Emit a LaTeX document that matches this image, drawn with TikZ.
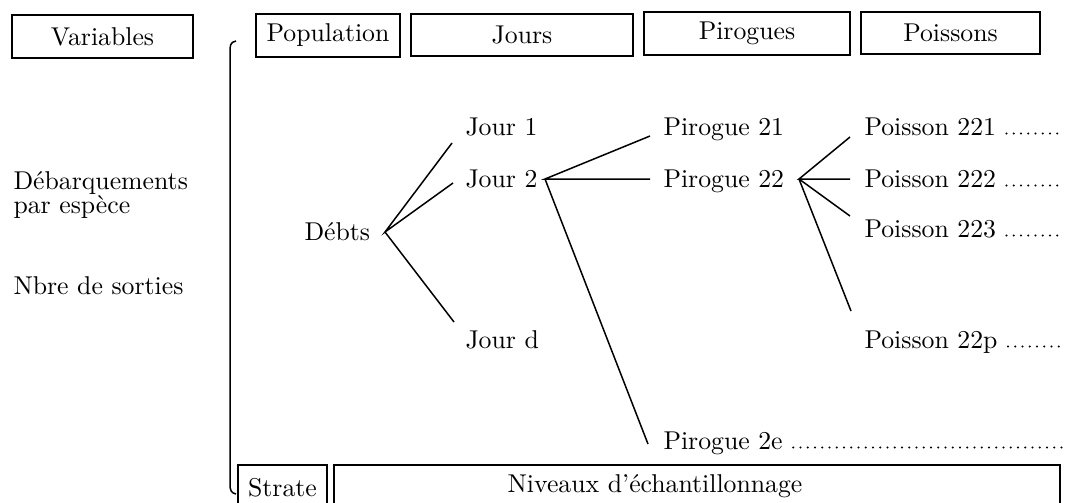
\documentclass[tikz,border=0pt]{standalone}
\begin{document}
\begin{tikzpicture}[x=0.4pt,y=-0.4pt,
  every node/.style={font=\fontsize{10.3pt}{12pt}\selectfont},
  hbox/.style={draw,line width=0.7pt,inner sep=0pt},
  lbl/.style={inner sep=0pt,anchor=base west},
  branch/.style={line width=0.6pt},
  leader/.style={line width=0.9pt,line cap=round,dash pattern=on 0pt off 2.9pt},
  bracket/.style={line width=0.6pt}]
\useasboundingbox (0,0) rectangle (1066,502);
\clip (0,0) rectangle (1066,502);

% header boxes
\node[hbox,minimum width=72.4pt,minimum height=17.2pt] (variables) at (102.5,36.5) {Variables};
\node[hbox,minimum width=57.6pt,minimum height=17.2pt] (population) at (328,35.5) {Population};
\node[hbox,minimum width=88.8pt,minimum height=16.8pt] (jours) at (522,35) {Jours};
\node[hbox,minimum width=82.4pt,minimum height=17.2pt] (pirogues) at (747,33.5) {Pirogues};
\node[hbox,minimum width=71.6pt,minimum height=16.8pt] (poissons) at (950.5,33) {Poissons};

% footer boxes (open at the lower edge)
\node[hbox,minimum width=35.6pt,minimum height=18pt] (strate) at (282.5,487.5) {Strate};
\node[hbox,minimum width=290.4pt,minimum height=18pt] (niveaux) at (697,487.5) {};
\node[inner sep=0pt] (niveaux-text) at (655,486) {Niveaux d’échantillonnage};

% bracket spanning the population
\coordinate (br-top) at (236,41);
\coordinate (br-bot) at (236,494);
\draw[bracket] (br-top) .. controls (230,42) and (230,46) .. (230,52) -- (230,484)
  .. controls (230,490) and (231,493) .. (br-bot);

% variables
\node[lbl] (debarq) at (13,189) {Débarquements};
\node[lbl] (espece) at (13,213) {par espèce};
\node[lbl] (sorties) at (13,294) {Nbre de sorties};

% tree labels
\node[lbl] (debts) at (304,240) {Débts};
\node[lbl] (jour1) at (465,135) {Jour 1};
\node[lbl] (jour2) at (465,187) {Jour 2};
\node[lbl] (jourd) at (465,348) {Jour d};
\node[lbl] (pir21) at (663,135) {Pirogue 21};
\node[lbl] (pir22) at (663,187) {Pirogue 22};
\node[lbl] (pir2e) at (663,449) {Pirogue 2e};
\node[lbl] (poi221) at (864,135) {Poisson 221};
\node[lbl] (poi222) at (864,187) {Poisson 222};
\node[lbl] (poi223) at (864,237) {Poisson 223};
\node[lbl] (poi22p) at (864,348) {Poisson 22p};

% branch points and branch tips
\coordinate (v-debts) at (385,232);
\coordinate (t-jour1) at (452,143);
\coordinate (t-jour2) at (453,183);
\coordinate (t-jourd) at (454,322);
\coordinate (v-jour2) at (545,179);
\coordinate (t-pir21) at (650,136);
\coordinate (t-pir22) at (650,179);
\coordinate (t-pir2e) at (648,444);
\coordinate (v-pir22) at (799,179);
\coordinate (t-poi221) at (850,137);
\coordinate (t-poi222) at (850,179);
\coordinate (t-poi223) at (850,216);
\coordinate (t-poi22p) at (851,311);

\draw[branch] (t-jour1) -- (v-debts) -- (t-jour2);
\draw[branch] (v-debts) -- (t-jourd);
\draw[branch] (t-pir21) -- (v-jour2) -- (t-pir22);
\draw[branch] (v-jour2) -- (t-pir2e);
\draw[branch] (t-poi221) -- (v-pir22) -- (t-poi222);
\draw[branch] (v-pir22) -- (t-poi223);
\draw[branch] (v-pir22) -- (t-poi22p);

% dotted leaders
\coordinate (e221) at (1063,133.5);
\coordinate (e222) at (1063,185.5);
\coordinate (e223) at (1063,235.5);
\coordinate (e22p) at (1063,346.5);
\coordinate (e2e) at (1063,447.5);
\draw[leader] ([xshift=4pt,yshift=0.6pt]poi221.base east) -- (e221);
\draw[leader] ([xshift=4pt,yshift=0.6pt]poi222.base east) -- (e222);
\draw[leader] ([xshift=4pt,yshift=0.6pt]poi223.base east) -- (e223);
\draw[leader] ([xshift=4pt,yshift=0.6pt]poi22p.base east) -- (e22p);
\draw[leader] ([xshift=4pt,yshift=0.6pt]pir2e.base east) -- (e2e);
\end{tikzpicture}
\end{document}
